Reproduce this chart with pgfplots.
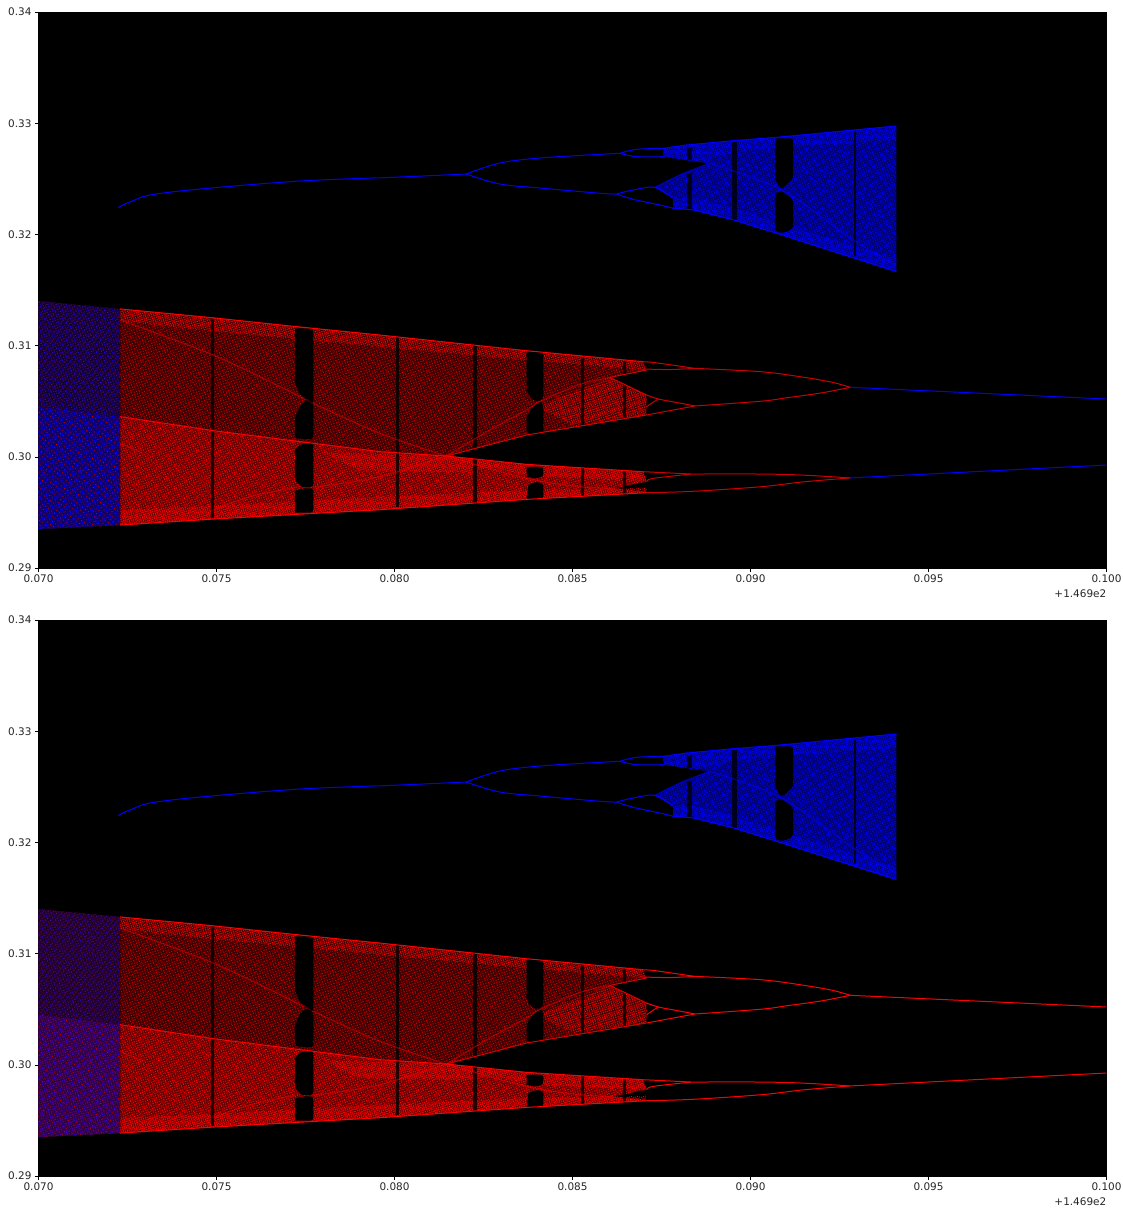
\documentclass[border=0pt]{standalone}
\usepackage{fontspec}
\setmainfont{DejaVu Sans}
\usepackage{pgfplots}
\usepackage{pgfplotstable}
\usetikzlibrary{patterns.meta}
\pgfplotsset{compat=1.18}

% chaotic bands, outlines
\pgfplotstableread{
x y
.0700 .3140
.07229 .3133
.07491 .3125
.07726 .3117
.07959 .31095
.08371 .30954
.08699 .30855
.08708 .30780
.08605 .30714
.08708 .30556
.08708 .30376
.08371 .30196
.08146 .30007
.07959 .30046
.07721 .30142
.07491 .30235
.07229 .30361
.0700 .30451
}\bandA
\pgfplotstableread{
x y
.0700 .30451
.07229 .30361
.07491 .30235
.07721 .30142
.07959 .30046
.08146 .30007
.08371 .29932
.08699 .29866
.08708 .29776
.08615 .29716
.08708 .29686
.08708 .29677
.08371 .29617
.07959 .29524
.07725 .29482
.07491 .29440
.07229 .29386
.0700 .29350
}\bandB
\pgfplotstableread{
x y
.0700 .3140
.07229 .3133
.07229 .30361
.0700 .30451
}\leftA
\pgfplotstableread{
x y
.0700 .30451
.07229 .30361
.07229 .29386
.0700 .29350
}\leftB
\pgfplotstableread{
x y
.08755 .32774
.08820 .32804
.08952 .32843
.09073 .32873
.09410 .32975
.09410 .31665
.09073 .32010
.08952 .32130
.08839 .32220
.08783 .32235
.08783 .32325
.08731 .32423
.08811 .32549
.08886 .32639
.08849 .32654
.08755 .32699
}\bandC
% denser strips along the band edges
\pgfplotstableread{
x y
.07229 .3133
.07491 .3125
.07726 .3117
.07959 .31095
.08371 .30954
.08699 .30855
.08708 .30780
.08371 .30870
.07959 .30990
.07726 .31060
.07491 .31130
.07229 .31220
}\stripTop
\pgfplotstableread{
x y
.07229 .29386
.07491 .29440
.07725 .29482
.07959 .29524
.08371 .29617
.08708 .29677
.08708 .29720
.08371 .29700
.07959 .29640
.07725 .29600
.07491 .29560
.07229 .29520
}\stripBot
\pgfplotstableread{
x y
.08146 .30007
.08371 .29932
.08699 .29866
.08708 .29776
.08371 .29830
}\stripMid
\pgfplotstableread{
x y
.08400 .30450
.08605 .30714
.08708 .30556
.08708 .30376
.08500 .30290
}\stripRise
\pgfplotstableread{
x y
.07800 .30040
.08146 .30007
.08300 .29930
.08200 .29860
.07900 .29880
}\stripCross
\pgfplotstableread{
x y
.08755 .32774
.08820 .32804
.08952 .32843
.09073 .32873
.09410 .32975
.09410 .32850
.09073 .32780
.08952 .32740
.08849 .32654
.08755 .32699
}\stripBlueA
\pgfplotstableread{
x y
.08783 .32235
.08839 .32220
.08952 .32130
.09073 .32010
.09410 .31665
.09410 .31780
.09073 .32110
.08952 .32240
.08839 .32330
.08783 .32325
}\stripBlueB

% periodic windows, black
\pgfplotstableread{
x y
.07721 .31155
.07772 .31155
.07772 .30475
.07753 .30526
.07735 .30556
.07721 .30661
}\winA
\pgfplotstableread{
x y
.07753 .30505
.07772 .30475
.07772 .30157
.07721 .30166
.07721 .30361
.07735 .30457
}\winB
\pgfplotstableread{
x y
.07721 .30061
.07735 .30115
.07772 .30127
.07772 .29731
.07739 .29725
.07721 .29791
}\winC
\pgfplotstableread{
x y
.07721 .29695
.07739 .29716
.07772 .29716
.07772 .29497
.07721 .29497
}\winD
\pgfplotstableread{
x y
.08371 .30945
.08418 .30945
.08418 .30525
.08399 .30496
.08380 .30540
.08371 .30601
}\winE
\pgfplotstableread{
x y
.08408 .30496
.08418 .30481
.08418 .30196
.08371 .30211
.08371 .30361
.08385 .30436
}\winF
\pgfplotstableread{
x y
.08371 .29911
.08418 .29911
.08418 .29821
.08396 .29806
.08371 .29821
}\winG
\pgfplotstableread{
x y
.08376 .29746
.08399 .29776
.08418 .29761
.08418 .29620
.08371 .29620
}\winH
\pgfplotstableread{
x y
.09070 .32864
.09120 .32864
.09120 .32504
.09087 .32405
.09070 .32489
}\winI
\pgfplotstableread{
x y
.09087 .32391
.09120 .32310
.09120 .32055
.09092 .32010
.09070 .32025
.09070 .32370
}\winJ

% narrow gaps
\pgfplotstableread{
x y
.07484 .31236
.07493 .31236
.07493 .29446
.07484 .29446
}\gapA
\pgfplotstableread{
x y
.08003 .31086
.08012 .31086
.08012 .29545
.08003 .29545
}\gapB
\pgfplotstableread{
x y
.08221 .31005
.08231 .31005
.08231 .29581
.08221 .29581
}\gapC
\pgfplotstableread{
x y
.08523 .30900
.08532 .30900
.08532 .29641
.08523 .29641
}\gapD
\pgfplotstableread{
x y
.08641 .30864
.08650 .30864
.08650 .29665
.08641 .29665
}\gapE
\pgfplotstableread{
x y
.09290 .32933
.09296 .32933
.09296 .31806
.09290 .31806
}\gapF
\pgfplotstableread{
x y
.08949 .32834
.08961 .32834
.08961 .32130
.08949 .32130
}\gapG
\pgfplotstableread{
x y
.08823 .32789
.08835 .32789
.08835 .32669
.08823 .32669
}\gapH
\pgfplotstableread{
x y
.08823 .32549
.08835 .32549
.08835 .32220
.08823 .32220
}\gapI

% thin curves on the right: red branches
\pgfplotstableread{
x y
.0928 .30625
.0923 .30670
.0915 .30715
.0903 .30765
.08844 .30795
}\arcUa
\pgfplotstableread{
x y
.08844 .30795
.08780 .30825
.08726 .30849
.08699 .30855
}\arcUb
\pgfplotstableread{
x y
.08844 .30795
.08780 .30785
.08736 .30786
.08699 .30790
}\arcUc
\pgfplotstableread{
x y
.0928 .30625
.0920 .30575
.0910 .30530
.0903 .30500
.08844 .30457
}\arcLa
\pgfplotstableread{
x y
.08844 .30457
.08790 .30490
.08741 .30520
.08708 .30556
}\arcLb
\pgfplotstableread{
x y
.08844 .30457
.08708 .30376
}\arcLd
\pgfplotstableread{
x y
.08741 .30520
.08708 .30451
}\arcLc
\pgfplotstableread{
x y
.0928 .2981
.0915 .29835
.0903 .29845
.08834 .29845
}\arcMa
\pgfplotstableread{
x y
.08834 .29845
.08770 .29855
.08699 .29866
}\arcMd
\pgfplotstableread{
x y
.08834 .29845
.08727 .29806
.08708 .29776
}\arcMb
\pgfplotstableread{
x y
.0928 .2981
.0915 .29775
.0903 .29731
.0884 .29690
.08708 .29677
}\arcMc
% tails to the right edge
\pgfplotstableread{
x y
.0928 .30625
.1000 .3052
}\tailU
\pgfplotstableread{
x y
.0928 .2981
.1000 .29926
}\tailL

% band edges and inner bright curves
\pgfplotstableread{
x y
.07229 .3133
.07491 .3125
.07726 .3117
.07959 .31095
.08371 .30954
.08699 .30855
}\edgeTop
\pgfplotstableread{
x y
.07229 .30361
.07491 .30235
.07721 .30142
.07959 .30046
.08146 .30007
}\edgeMid
\pgfplotstableread{
x y
.08146 .30007
.08371 .29932
.08699 .29866
}\edgeMidB
\pgfplotstableread{
x y
.07229 .29386
.07491 .29440
.07725 .29482
.07959 .29524
.08371 .29617
.08708 .29677
}\edgeBot
\pgfplotstableread{
x y
.08146 .30007
.08371 .30196
.08708 .30376
}\edgeRise
\pgfplotstableread{
x y
.08708 .30780
.08605 .30714
}\edgeNotchA
\pgfplotstableread{
x y
.08605 .30714
.08708 .30556
}\edgeNotchB
\pgfplotstableread{
x y
.07229 .31230
.07491 .30915
.07716 .30571
.07739 .30526
}\causA
\pgfplotstableread{
x y
.07772 .30481
.07959 .30211
.08146 .30007
}\causAb
\pgfplotstableread{
x y
.08146 .30007
.08268 .30241
.08371 .30421
.08408 .30496
.0852 .30650
.08605 .30714
}\causAc
\pgfplotstableread{
x y
.07491 .29521
.07594 .29641
.07721 .29725
}\causB
\pgfplotstableread{
x y
.07772 .29725
.07959 .29821
.08146 .30007
}\causBb
\pgfplotstableread{
x y
.08146 .30007
.08371 .29806
.0852 .29731
.08615 .29716
}\causBc
\pgfplotstableread{
x y
.07229 .30121
.07294 .30031
}\causC
% blue curve on the top right
\pgfplotstableread{
x y
.07223 .32240
.07235 .32262
.07260 .32295
.07313 .32354
.07454 .32408
.07735 .32480
.08015 .32516
.08201 .32543
}\blueStem
\pgfplotstableread{
x y
.08201 .32543
.08296 .32642
.08409 .32687
.08577 .32720
.08633 .32729
}\blueUp
\pgfplotstableread{
x y
.08633 .32729
.08680 .32765
.08755 .32774
}\blueUpA
\pgfplotstableread{
x y
.08633 .32729
.08680 .32699
.08755 .32699
}\blueUpB
\pgfplotstableread{
x y
.08201 .32543
.08296 .32453
.08409 .32417
.08577 .32370
.08624 .32363
}\blueLo
\pgfplotstableread{
x y
.08624 .32363
.08671 .32400
.08731 .32423
.08783 .32325
}\blueLoA
\pgfplotstableread{
x y
.08624 .32363
.08671 .32315
.08746 .32264
.08783 .32235
}\blueLoB
\pgfplotstableread{
x y
.08755 .32774
.08820 .32804
.08952 .32843
.09073 .32873
.09410 .32975
}\blueTop
\pgfplotstableread{
x y
.08783 .32235
.08839 .32220
.08952 .32130
.09073 .32010
.09410 .31665
}\blueBot
\pgfplotstableread{
x y
.08731 .32423
.08811 .32549
.08886 .32639
}\blueCausA
\pgfplotstableread{
x y
.08886 .32639
.09087 .32400
.09289 .31950
.09410 .31720
}\blueCausB

\definecolor{labelgray}{HTML}{262626}
\definecolor{darkband}{HTML}{3C0000}
\definecolor{brightband}{HTML}{640000}
\definecolor{blueband}{HTML}{000070}

\pgfplotsset{
  bif/.style={
    scale only axis, width=1068bp, height=556bp,
    xmin=0.07, xmax=0.10, ymin=0.29, ymax=0.34,
    axis background/.style={fill=black},
    xtick={0.07,0.075,0.08,0.085,0.09,0.095,0.1},
    ytick={0.29,0.30,0.31,0.32,0.33,0.34},
    tick align=outside, xtick pos=bottom, ytick pos=left,
    major tick length=3.5bp,
    every tick/.style={black,line width=0.6pt},
    tick label style={font=\fontsize{10.5}{12}\selectfont, text=labelgray},
    x tick label style={/pgf/number format/.cd, fixed, fixed zerofill, precision=3, assume math mode=true},
    y tick label style={/pgf/number format/.cd, fixed, fixed zerofill, precision=2, assume math mode=true},
    axis line style={black,line width=0.6pt},
    no markers,
  },
  poly/.style={draw=none, fill=#1},
  grain/.style 2 args={draw=none, pattern={Dots[distance=#2, radius=.62bp, angle=17]}, pattern color=#1},
  grainb/.style 2 args={draw=none, pattern={Dots[distance=#2, radius=.55bp, angle=-38]}, pattern color=#1},
  gap/.style={draw=none, fill=black, fill opacity=.8},
  win/.style={draw=none, fill=black, rounded corners=3bp},
  thin/.style={draw=#1, line width=1bp, line join=round},
  curve/.style={draw=#1, line width=1bp, smooth, tension=.55},
}

\newcommand{\bifpanel}{%
  \addplot[poly=darkband] table {\bandA};
  \addplot[grain={red!85!black}{2.6bp}] table {\bandA};
  \addplot[grainb={red!65!black}{3.3bp}] table {\bandA};
  \addplot[poly=brightband] table {\bandB};
  \addplot[grain={red}{2.3bp}] table {\bandB};
  \addplot[grainb={red}{3.1bp}] table {\bandB};
  \addplot[grain={red}{2.0bp}] table {\stripTop};
  \addplot[grain={red}{1.9bp}] table {\stripBot};
  \addplot[grain={red}{1.9bp}] table {\stripMid};
  \addplot[grain={red}{2.1bp}] table {\stripRise};
  \addplot[grain={red}{1.9bp}] table {\stripCross};
  % left part with both colours
  \addplot[poly=black] table {\leftA};
  \addplot[poly=black] table {\leftB};
  \addplot[poly=leftAcol] table {\leftA};
  \addplot[grain={leftAdot}{2.5bp}] table {\leftA};
  \addplot[grainb={red!65!black}{3.9bp}] table {\leftA};
  \addplot[poly=leftBcol] table {\leftB};
  \addplot[grain={leftBdot}{2.2bp}] table {\leftB};
  \addplot[grainb={red!75!black}{3.7bp}] table {\leftB};
  % blue attractor
  \addplot[poly=blueband] table {\bandC};
  \addplot[grain={blue}{2.3bp}] table {\bandC};
  \addplot[grainb={blue}{3.1bp}] table {\bandC};
  \addplot[grain={blue}{1.9bp}] table {\stripBlueA};
  \addplot[grain={blue}{1.9bp}] table {\stripBlueB};
  % black windows and gaps
  \addplot[win] table {\winA};
  \addplot[win] table {\winB};
  \addplot[win] table {\winC};
  \addplot[win] table {\winD};
  \addplot[win] table {\winE};
  \addplot[win] table {\winF};
  \addplot[win] table {\winG};
  \addplot[win] table {\winH};
  \addplot[win] table {\winI};
  \addplot[win] table {\winJ};
  \addplot[gap] table {\gapA};
  \addplot[gap] table {\gapB};
  \addplot[gap] table {\gapC};
  \addplot[gap] table {\gapD};
  \addplot[gap] table {\gapE};
  \addplot[gap] table {\gapF};
  \addplot[gap] table {\gapG};
  \addplot[gap] table {\gapH};
  \addplot[gap] table {\gapI};
  % bright curves
  \addplot[thin=red] table {\edgeTop};
  \addplot[thin=red] table {\edgeMid};
  \addplot[thin=red] table {\edgeMidB};
  \addplot[thin=red] table {\edgeBot};
  \addplot[thin=red!85!black] table {\edgeRise};
  \addplot[thin=red!85!black] table {\edgeNotchA};
  \addplot[thin=red!85!black] table {\edgeNotchB};
  \addplot[curve=red, opacity=.5] table {\causA};
  \addplot[curve=red, opacity=.5] table {\causAb};
  \addplot[curve=red, opacity=.5] table {\causAc};
  \addplot[curve=red, opacity=.5] table {\causB};
  \addplot[curve=red, opacity=.5] table {\causBb};
  \addplot[curve=red, opacity=.5] table {\causBc};
  \addplot[curve=red, opacity=.5] table {\causC};
  \addplot[curve=arccol] table {\arcUa};
  \addplot[curve=arccol] table {\arcUb};
  \addplot[curve=arccol] table {\arcUc};
  \addplot[curve=arccol] table {\arcLa};
  \addplot[curve=arccol] table {\arcLb};
  \addplot[curve=arccol] table {\arcLc};
  \addplot[curve=arccol] table {\arcLd};
  \addplot[curve=arccol] table {\arcMa};
  \addplot[curve=arccol] table {\arcMb};
  \addplot[curve=arccol] table {\arcMc};
  \addplot[curve=arccol] table {\arcMd};
  \addplot[thin=tailcol] table {\tailU};
  \addplot[thin=tailcol] table {\tailL};
  \addplot[curve=blue] table {\blueStem};
  \addplot[curve=blue] table {\blueUp};
  \addplot[curve=blue] table {\blueUpA};
  \addplot[curve=blue] table {\blueUpB};
  \addplot[curve=blue] table {\blueLo};
  \addplot[curve=blue] table {\blueLoA};
  \addplot[curve=blue] table {\blueLoB};
  \addplot[thin=blue] table {\blueTop};
  \addplot[thin=blue] table {\blueBot};
  \addplot[curve=blue, opacity=.6] table {\blueCausA};
  \addplot[curve=blue, opacity=.6] table {\blueCausB};
}

\begin{document}
\begin{tikzpicture}
\path[use as bounding box] (-38.5bp,-640bp) rectangle (1084.5bp,568bp);

\definecolor{leftAcol}{HTML}{140030}
\definecolor{leftBcol}{HTML}{100060}
\definecolor{leftAdot}{HTML}{2000E0}
\definecolor{leftBdot}{HTML}{0000FF}
\colorlet{tailcol}{blue}
\colorlet{arccol}{red!80!black}
\begin{axis}[bif, name=upper]
\bifpanel
\end{axis}
\node[anchor=east, yshift=-26bp, font=\fontsize{10.5}{12}\selectfont, text=labelgray, inner sep=0pt] at (upper.south east) {+1.469e2};

\definecolor{leftAcol}{HTML}{200028}
\definecolor{leftBcol}{HTML}{300040}
\definecolor{leftAdot}{HTML}{3000B0}
\definecolor{leftBdot}{HTML}{4000D0}
\colorlet{tailcol}{red}
\colorlet{arccol}{red}
\begin{axis}[bif, name=lower, at={(0,-608bp)}]
\bifpanel
\end{axis}
\node[anchor=east, yshift=-26bp, font=\fontsize{10.5}{12}\selectfont, text=labelgray, inner sep=0pt] at (lower.south east) {+1.469e2};
\end{tikzpicture}
\end{document}
